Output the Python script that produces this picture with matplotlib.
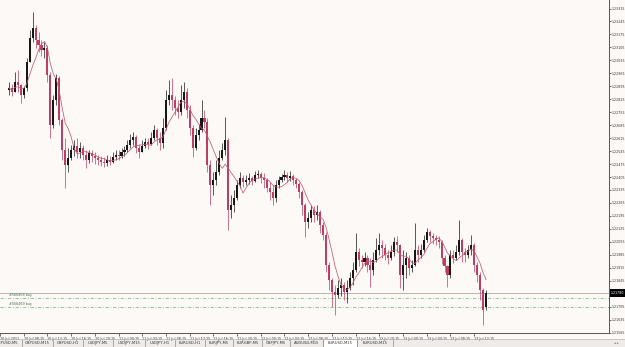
import numpy as np
import pandas as pd
import matplotlib
matplotlib.use("Agg")
import matplotlib.pyplot as plt
from matplotlib.patches import Rectangle
from matplotlib.lines import Line2D
import matplotlib.transforms as mtransforms

# ---------------- data (EURUSD candles) ----------------
opens = [
    1.22875, 1.22886, 1.22864, 1.22918, 1.22902, 1.22848, 1.22886, 1.23026, 1.23156, 1.23210,
    1.23145, 1.23118, 1.23091, 1.23102, 1.22956, 1.22686, 1.22821, 1.22940, 1.22713, 1.22551,
    1.22470, 1.22508, 1.22551, 1.22573, 1.22540, 1.22562, 1.22524, 1.22497, 1.22535, 1.22519,
    1.22508, 1.22497, 1.22486, 1.22481, 1.22497, 1.22486, 1.22513, 1.22524, 1.22519, 1.22540,
    1.22551, 1.22578, 1.22605, 1.22621, 1.22562, 1.22540, 1.22573, 1.22594, 1.22583, 1.22616,
    1.22659, 1.22616, 1.22589, 1.22670, 1.22821, 1.22848, 1.22821, 1.22778, 1.22756, 1.22821,
    1.22864, 1.22767, 1.22670, 1.22562, 1.22632, 1.22659, 1.22724, 1.22702, 1.22470, 1.22362,
    1.22389, 1.22432, 1.22508, 1.22551, 1.22605, 1.22227, 1.22254, 1.22292, 1.22362, 1.22400,
    1.22378, 1.22389, 1.22400, 1.22384, 1.22416, 1.22421, 1.22400, 1.22389, 1.22346, 1.22324,
    1.22292, 1.22362, 1.22389, 1.22405, 1.22416, 1.22400, 1.22411, 1.22389, 1.22367, 1.22324,
    1.22254, 1.22162, 1.22184, 1.22227, 1.22200, 1.22216, 1.22146, 1.22092, 1.21930, 1.21849,
    1.21784, 1.21768, 1.21806, 1.21822, 1.21784, 1.21806, 1.21860, 1.21903, 1.22000, 1.21957,
    1.21946, 1.21968, 1.21930, 1.21903, 1.21957, 1.22011, 1.22038, 1.22022, 1.21984, 1.21968,
    1.22000, 1.22054, 1.22038, 1.21876, 1.21930, 1.21968, 1.21914, 1.21930, 1.22011, 1.21984,
    1.22011, 1.22065, 1.22108, 1.22087, 1.22076, 1.22065, 1.22054, 1.21968, 1.21925, 1.21876,
    1.21984, 1.21968, 1.22000, 1.22065, 1.22000, 1.21984, 1.22011, 1.22038, 1.21930, 1.21876,
    1.21795, 1.21703,
]
highs = [
    1.22918, 1.22907, 1.22972, 1.22983, 1.22907, 1.22897, 1.23048, 1.23199, 1.23296, 1.23226,
    1.23188, 1.23145, 1.23134, 1.23118, 1.22972, 1.22848, 1.22961, 1.22951, 1.22724, 1.22616,
    1.22562, 1.22578, 1.22605, 1.22616, 1.22594, 1.22578, 1.22551, 1.22551, 1.22551, 1.22540,
    1.22524, 1.22519, 1.22513, 1.22524, 1.22519, 1.22540, 1.22551, 1.22551, 1.22562, 1.22573,
    1.22605, 1.22637, 1.22648, 1.22632, 1.22583, 1.22605, 1.22616, 1.22616, 1.22648, 1.22686,
    1.22670, 1.22648, 1.22724, 1.22875, 1.22929, 1.22940, 1.22843, 1.22821, 1.22902, 1.22918,
    1.22886, 1.22794, 1.22686, 1.22670, 1.22691, 1.22821, 1.22767, 1.22724, 1.22497, 1.22432,
    1.22497, 1.22551, 1.22589, 1.22729, 1.22616, 1.22308, 1.22335, 1.22389, 1.22432, 1.22416,
    1.22416, 1.22427, 1.22411, 1.22438, 1.22443, 1.22432, 1.22427, 1.22400, 1.22378, 1.22362,
    1.22389, 1.22411, 1.22421, 1.22443, 1.22432, 1.22438, 1.22421, 1.22400, 1.22378, 1.22335,
    1.22265, 1.22216, 1.22254, 1.22249, 1.22254, 1.22227, 1.22162, 1.22108, 1.21946, 1.21860,
    1.21822, 1.21849, 1.21860, 1.21838, 1.21849, 1.21892, 1.21946, 1.22103, 1.22022, 1.21984,
    1.22000, 1.21984, 1.21968, 1.22000, 1.22076, 1.22103, 1.22065, 1.22043, 1.22011, 1.22038,
    1.22081, 1.22087, 1.22043, 1.22011, 1.22000, 1.21984, 1.21957, 1.22157, 1.22038, 1.22043,
    1.22092, 1.22130, 1.22119, 1.22103, 1.22092, 1.22087, 1.22065, 1.21984, 1.21930, 1.22011,
    1.22011, 1.22038, 1.22173, 1.22076, 1.22022, 1.22038, 1.22092, 1.22049, 1.21946, 1.21892,
    1.21806, 1.21795,
]
lows = [
    1.22848, 1.22843, 1.22864, 1.22864, 1.22805, 1.22832, 1.22870, 1.23026, 1.23134, 1.23102,
    1.23080, 1.23059, 1.23048, 1.22918, 1.22616, 1.22670, 1.22794, 1.22686, 1.22497, 1.22346,
    1.22432, 1.22497, 1.22519, 1.22508, 1.22508, 1.22497, 1.22454, 1.22481, 1.22486, 1.22475,
    1.22470, 1.22465, 1.22459, 1.22465, 1.22470, 1.22481, 1.22497, 1.22497, 1.22508, 1.22519,
    1.22540, 1.22562, 1.22578, 1.22535, 1.22508, 1.22540, 1.22562, 1.22556, 1.22578, 1.22605,
    1.22578, 1.22551, 1.22562, 1.22659, 1.22794, 1.22767, 1.22740, 1.22724, 1.22740, 1.22778,
    1.22724, 1.22632, 1.22513, 1.22551, 1.22605, 1.22648, 1.22670, 1.22432, 1.22254, 1.22308,
    1.22362, 1.22416, 1.22497, 1.22524, 1.22119, 1.22184, 1.22216, 1.22281, 1.22346, 1.22351,
    1.22362, 1.22367, 1.22362, 1.22378, 1.22400, 1.22373, 1.22346, 1.22324, 1.22281, 1.22254,
    1.22270, 1.22346, 1.22378, 1.22389, 1.22378, 1.22384, 1.22362, 1.22346, 1.22292, 1.22200,
    1.22081, 1.22130, 1.22162, 1.22162, 1.22173, 1.22103, 1.22065, 1.21892, 1.21795, 1.21703,
    1.21660, 1.21752, 1.21763, 1.21741, 1.21725, 1.21795, 1.21822, 1.21892, 1.21925, 1.21914,
    1.21925, 1.21892, 1.21811, 1.21876, 1.21946, 1.21984, 1.21968, 1.21957, 1.21935, 1.21957,
    1.21979, 1.22000, 1.21806, 1.21795, 1.21860, 1.21876, 1.21892, 1.21925, 1.21946, 1.21968,
    1.22000, 1.22054, 1.22054, 1.22043, 1.22038, 1.22022, 1.21935, 1.21892, 1.21811, 1.21860,
    1.21941, 1.21957, 1.21984, 1.21946, 1.21946, 1.21968, 1.21984, 1.21892, 1.21838, 1.21741,
    1.21606, 1.21687,
]
closes = [
    1.22886, 1.22864, 1.22918, 1.22902, 1.22848, 1.22886, 1.23026, 1.23156, 1.23210, 1.23145,
    1.23118, 1.23091, 1.23102, 1.22956, 1.22686, 1.22821, 1.22940, 1.22713, 1.22551, 1.22470,
    1.22508, 1.22551, 1.22573, 1.22540, 1.22562, 1.22524, 1.22497, 1.22535, 1.22519, 1.22508,
    1.22497, 1.22486, 1.22481, 1.22497, 1.22486, 1.22513, 1.22524, 1.22519, 1.22540, 1.22551,
    1.22578, 1.22605, 1.22621, 1.22562, 1.22540, 1.22573, 1.22594, 1.22583, 1.22616, 1.22659,
    1.22616, 1.22589, 1.22670, 1.22821, 1.22848, 1.22821, 1.22778, 1.22756, 1.22821, 1.22864,
    1.22767, 1.22670, 1.22562, 1.22632, 1.22659, 1.22724, 1.22702, 1.22470, 1.22362, 1.22389,
    1.22432, 1.22508, 1.22551, 1.22605, 1.22227, 1.22254, 1.22292, 1.22362, 1.22400, 1.22378,
    1.22389, 1.22400, 1.22384, 1.22416, 1.22421, 1.22400, 1.22389, 1.22346, 1.22324, 1.22292,
    1.22362, 1.22389, 1.22405, 1.22416, 1.22400, 1.22411, 1.22389, 1.22367, 1.22324, 1.22254,
    1.22162, 1.22184, 1.22227, 1.22200, 1.22216, 1.22146, 1.22092, 1.21930, 1.21849, 1.21784,
    1.21768, 1.21806, 1.21822, 1.21784, 1.21806, 1.21860, 1.21903, 1.22000, 1.21957, 1.21946,
    1.21968, 1.21930, 1.21903, 1.21957, 1.22011, 1.22038, 1.22022, 1.21984, 1.21968, 1.22000,
    1.22054, 1.22038, 1.21876, 1.21930, 1.21968, 1.21914, 1.21930, 1.22011, 1.21984, 1.22011,
    1.22065, 1.22108, 1.22087, 1.22076, 1.22065, 1.22054, 1.21968, 1.21925, 1.21876, 1.21984,
    1.21968, 1.22000, 1.22065, 1.22000, 1.21984, 1.22011, 1.22038, 1.21930, 1.21876, 1.21795,
    1.21687, 1.21780,
]

ma_period = 6
bid_price = 1.21780
order_levels = [1.21753, 1.21703]
order_labels = ["#566468 buy", "#566469 buy"]

price_ticks = [
    1.21565, 1.21635, 1.21705, 1.21775, 1.21845, 1.21915, 1.21985, 1.22055, 1.22125,
    1.22195, 1.22265, 1.22335, 1.22405, 1.22475, 1.22545, 1.22615, 1.22685, 1.22755,
    1.22825, 1.22895, 1.22965, 1.23035, 1.23105, 1.23175, 1.23245, 1.23315,
]
time_labels = [
    "10 Jul 2012", "10 Jul 08:15", "10 Jul 12:15", "10 Jul 16:15", "10 Jul 20:15",
    "11 Jul 00:15", "11 Jul 04:15", "11 Jul 08:15", "11 Jul 12:15", "11 Jul 16:15",
    "11 Jul 20:15", "12 Jul 00:15", "12 Jul 04:15", "12 Jul 08:15", "12 Jul 12:15",
    "12 Jul 16:15", "12 Jul 20:15", "13 Jul 00:15", "13 Jul 04:15", "13 Jul 08:15",
    "13 Jul 12:15",
]
tabs = ["GBPUSD,M5", "GBPUSD,M15", "GBPUSD,H1", "USDJPY,M5", "USDJPY,M15", "USDJPY,H1",
        "EURUSD,H1", "EURJPY,M5", "EURGBP,M5", "GBPJPY,M5", "AUDUSD,M15", "EURUSD,M15",
        "EURUSD,M15"]
active_tab = 11

# ---------------- styling ----------------
W, H = 625, 347
BG = "#fdf9f7"
BEAR = "#bb3f63"
BULL = "#161616"
MA_COL = "#c25a74"
FONT = ["DejaVu Sans Condensed", "DejaVu Sans"]
plt.rcParams["font.family"] = FONT

fig = plt.figure(figsize=(W / 100, H / 100), dpi=100)
fig.patch.set_facecolor(BG)

plot_w, plot_h = 609, 333
ax = fig.add_axes([0, 1 - plot_h / H, plot_w / W, plot_h / H])
ax.set_facecolor(BG)

o = np.array(opens); h = np.array(highs); l = np.array(lows); c = np.array(closes)
n = len(c)
x = np.arange(n)
px_per_bar = 3.0
ax.set_xlim(-0.5, -0.5 + plot_w / px_per_bar)
ax.set_ylim(1.215628, 1.23361)

up = c >= o
cols = np.where(up, BULL, BEAR)
ax.vlines(x, l, h, colors=cols, linewidth=0.5, zorder=2)
body = np.maximum(np.abs(c - o), 0.00002)
ax.bar(x, body, bottom=np.minimum(o, c), width=0.7, color=cols, linewidth=0, zorder=3)

ma = pd.Series(c).rolling(ma_period, min_periods=1).mean()
ax.plot(x, ma, color=MA_COL, linewidth=0.55, zorder=4)

# bid line and order lines
ax.axhline(bid_price, color="#aaaaaa", linewidth=0.6, zorder=1)
for lev, lab in zip(order_levels, order_labels):
    ax.axhline(lev, color="#7cc27c", linewidth=0.6, linestyle=(0, (4, 2, 1, 2)), zorder=1)
    ax.text(0.2, lev + 0.00003, lab, fontsize=2.4, color="#4d6b4d", va="bottom", ha="left")

# spines
for s in ["top", "left"]:
    ax.spines[s].set_visible(False)
for s in ["right", "bottom"]:
    ax.spines[s].set_color("#555555")
    ax.spines[s].set_linewidth(0.7)

# price axis
ax.yaxis.tick_right()
shown = [p for p in price_ticks if abs(p - bid_price) > 0.0003]
ax.set_yticks(shown)
ax.set_yticklabels([f"{p:.5f}" for p in shown])
ax.tick_params(axis="y", direction="out", length=1.2, width=0.5, pad=0.5,
               labelsize=2.3, colors="#333333")

# time axis
tick_bars = [-3] + [5 + 8 * k for k in range(len(time_labels) - 1)]
ax.set_xticks(tick_bars)
ax.set_xticklabels(time_labels)
ax.tick_params(axis="x", direction="out", length=2, width=0.5, pad=0.8,
               labelsize=2.4, colors="#333333")
for t in ax.get_xticklabels():
    t.set_ha("left")

# current price box
tr = mtransforms.blended_transform_factory(fig.transFigure, ax.transData)
ax.add_patch(Rectangle((610 / W, bid_price - 0.00021), 15 / W, 0.00042, transform=tr,
                       facecolor="black", edgecolor="none", clip_on=False, zorder=6))
ax.text(611 / W, bid_price, f"{bid_price:.5f}", transform=tr, color="white",
        fontsize=2.3, va="center", ha="left", clip_on=False, zorder=7)

# tab bar
fig.add_artist(Rectangle((0, 0), 1, 8.5 / H, transform=fig.transFigure,
                         facecolor="#eeebe9", edgecolor="none", zorder=0))
fig.add_artist(Line2D([0, 1], [8.5 / H, 8.5 / H], transform=fig.transFigure,
                      color="#b8b8b8", linewidth=0.5))
seps = [-8, 22, 53, 83, 113, 145, 175, 205, 233, 262, 290, 323, 357, 393]
for i, name in enumerate(tabs):
    x0, x1 = seps[i], seps[i + 1]
    if i == active_tab:
        fig.add_artist(Rectangle((x0 / W, 0), (x1 - x0) / W, 8.5 / H, transform=fig.transFigure,
                                 facecolor="#ffffff", edgecolor="#9a9a9a", linewidth=0.5))
    fig.add_artist(Line2D([x1 / W, x1 / W], [1 / H, 7.5 / H], transform=fig.transFigure,
                          color="#8a8a8a", linewidth=0.5))
    fig.text((x0 + x1) / 2 / W, 4.2 / H, name, fontsize=2.7, ha="center", va="center",
             color="#333333")
fig.text(616 / W, 3.5 / H, "\u25c2 \u25b8", fontsize=2.5, ha="center", va="center",
         color="#666666", family=["DejaVu Sans"])

fig.savefig("out.png", dpi=100, facecolor=BG)
